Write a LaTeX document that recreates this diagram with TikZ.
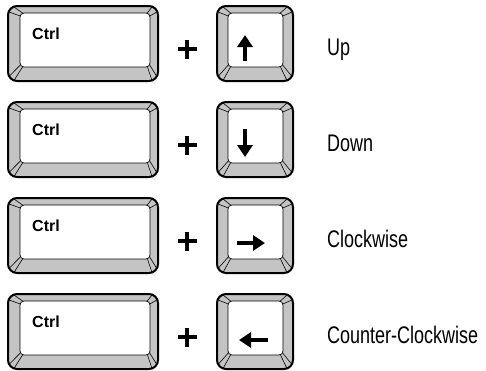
\documentclass[tikz,border=0pt]{standalone}
\usepackage{fontspec}
\setmainfont{Liberation Sans}
\newfontfamily\condfont{Liberation Sans}[FakeStretch=0.75]
\usetikzlibrary{arrows.meta}
\definecolor{bevel}{RGB}{196,196,196}
\tikzset{
  outerkey/.style={draw=black, line width=2pt, fill=bevel, rounded corners=9pt},
  innerkey/.style={draw=black, line width=0.7pt, fill=white, rounded corners=4pt},
  bevline/.style={draw=black, line width=0.6pt},
  plussign/.style={line width=4.5pt},
  arrowglyph/.style={line width=3.8pt, -{Triangle[length=12pt,width=15pt]}},
  ctrllabel/.style={anchor=base west, inner sep=0pt, font=\bfseries\fontsize{16}{18}\selectfont},
  actlabel/.style={anchor=base west, inner sep=0pt, font=\condfont\fontsize{24}{28}\selectfont},
}
\newcommand{\keycap}[5]{%
  \begin{scope}[shift={(#1,#2)}]
    \path[outerkey] (0,0) rectangle (#3,75);
    \path[innerkey] (#4,7) rectangle ({#3-#5},61);
    \draw[bevline] ({#4+3},7.3) -- (6,1) ({#4+0.3},10) -- (1,6);
    \draw[bevline] ({#3-#5-3},7.3) -- ({#3-6},1) ({#3-#5-0.3},10) -- ({#3-1},6);
    \draw[bevline] ({#4+0.3},59) -- (1.5,70) ({#4+2.5},61) -- (6,74.5);
    \draw[bevline] ({#3-#5-0.3},59) -- ({#3-1.5},70) ({#3-#5-2.5},61) -- ({#3-6},74.5);
  \end{scope}}
\newcommand{\plusat}[2]{%
  \draw[plussign] (#1-9.5,#2) -- (#1+9.5,#2);
  \draw[plussign] (#1,#2-9.5) -- (#1,#2+9.5);}
\begin{document}
\begin{tikzpicture}[x=1pt,y=-1pt]
  \useasboundingbox (0,0) rectangle (486,370);
  % row 1
  \keycap{8}{6}{150}{12}{8}
  \node[ctrllabel] (ctrl1) at (32,39) {Ctrl};
  \plusat{187}{49}
  \keycap{217}{6}{76}{11}{10}
  \coordinate (u1) at (245,61);
  \coordinate (u2) at (245,35);
  \draw[arrowglyph] (u1) -- (u2);
  \node[actlabel] (lbl1) at (327,55) {Up};
  % row 2
  \keycap{8}{102}{150}{12}{8}
  \node[ctrllabel] (ctrl2) at (32,135) {Ctrl};
  \plusat{187}{145}
  \keycap{217}{102}{76}{11}{10}
  \coordinate (d1) at (245,129);
  \coordinate (d2) at (245,157);
  \draw[arrowglyph] (d1) -- (d2);
  \node[actlabel] (lbl2) at (327,151) {Down};
  % row 3
  \keycap{8}{198}{150}{12}{8}
  \node[ctrllabel] (ctrl3) at (32,231) {Ctrl};
  \plusat{187}{241}
  \keycap{217}{198}{76}{11}{10}
  \coordinate (r1) at (237,243);
  \coordinate (r2) at (265,243);
  \draw[arrowglyph] (r1) -- (r2);
  \node[actlabel] (lbl3) at (327,247) {Clockwise};
  % row 4
  \keycap{8}{294}{150}{12}{8}
  \node[ctrllabel] (ctrl4) at (32,327) {Ctrl};
  \plusat{187}{337}
  \keycap{217}{294}{76}{11}{10}
  \coordinate (l1) at (268,340);
  \coordinate (l2) at (239,340);
  \draw[arrowglyph] (l1) -- (l2);
  \node[actlabel] (lbl4) at (327,343) {Counter-Clockwise};
\end{tikzpicture}
\end{document}
